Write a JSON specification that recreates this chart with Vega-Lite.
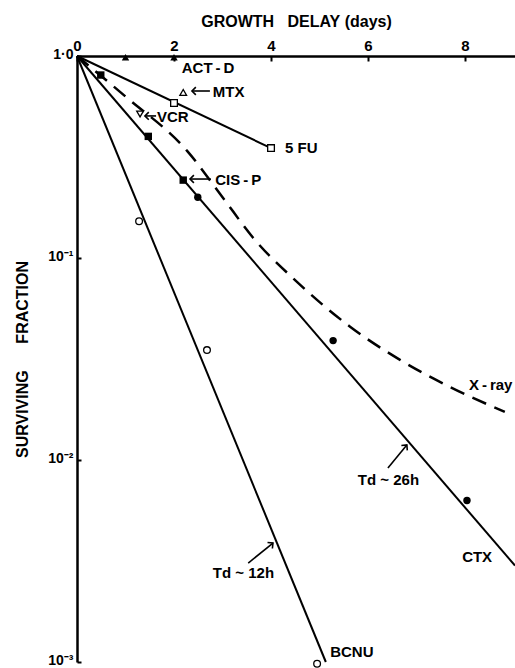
{
  "$schema": "https://vega.github.io/schema/vega-lite/v6.json",
  "width": 438,
  "height": 606,
  "autosize": {"type": "none"},
  "padding": {"left": 77, "top": 56, "right": 0, "bottom": 6},
  "background": "white",
  "config": {
    "view": {"stroke": null},
    "font": "Liberation Sans",
    "text": {"font": "Liberation Sans", "fontWeight": "bold", "fontSize": 14, "color": "black"}
  },
  "datasets": {
    "lines": [
      {"series": "5FU", "x": 0, "y": 1},
      {"series": "5FU", "x": 4.0, "y": 0.35},
      {"series": "CTX", "x": 0, "y": 1},
      {"series": "CTX", "x": 9.03, "y": 0.003},
      {"series": "BCNU", "x": 0, "y": 1},
      {"series": "BCNU", "x": 5.13, "y": 0.001}
    ],
    "xray": [
      {"x": 0, "y": 1},
      {"x": 1.0, "y": 0.63},
      {"x": 2.27, "y": 0.339},
      {"x": 3.0, "y": 0.2},
      {"x": 3.63, "y": 0.126},
      {"x": 4.54, "y": 0.076},
      {"x": 5.63, "y": 0.0457},
      {"x": 6.66, "y": 0.0313},
      {"x": 7.69, "y": 0.023},
      {"x": 8.82, "y": 0.0173}
    ],
    "points": [
      {"series": "ACT-D", "x": 1.0, "y": 0.985},
      {"series": "ACT-D", "x": 2.0, "y": 0.985},
      {"series": "MTX", "x": 2.19, "y": 0.66},
      {"series": "VCR", "x": 1.3, "y": 0.516},
      {"series": "5FU", "x": 2.0, "y": 0.585},
      {"series": "5FU", "x": 4.0, "y": 0.35},
      {"series": "CIS-P", "x": 0.49, "y": 0.805},
      {"series": "CIS-P", "x": 1.47, "y": 0.4},
      {"series": "CIS-P", "x": 2.19, "y": 0.243},
      {"series": "CTX", "x": 2.49, "y": 0.2},
      {"series": "CTX", "x": 5.28, "y": 0.039},
      {"series": "CTX", "x": 8.04, "y": 0.0063},
      {"series": "BCNU", "x": 1.28, "y": 0.152},
      {"series": "BCNU", "x": 2.68, "y": 0.035},
      {"series": "BCNU", "x": 4.95, "y": 0.00098}
    ],
    "labels": [
      {"label": "ACT\u2009-\u2009D", "x": 2.16, "y": 0.873},
      {"label": "MTX", "x": 2.8, "y": 0.663},
      {"label": "VCR", "x": 1.65, "y": 0.499},
      {"label": "5 FU", "x": 4.29, "y": 0.35},
      {"label": "CIS\u2009-\u2009P", "x": 2.85, "y": 0.243},
      {"label": "X\u2009-\u2009ray", "x": 8.08, "y": 0.0235},
      {"label": "Td ~ 26h", "x": 5.79, "y": 0.00796},
      {"label": "CTX", "x": 7.94, "y": 0.00331},
      {"label": "Td ~ 12h", "x": 2.8, "y": 0.00276},
      {"label": "BCNU", "x": 5.22, "y": 0.00112}
    ],
    "arrows": [
      {"arrow": "MTX", "x": 2.37, "y": 0.671, "x2": 2.74, "y2": 0.671},
      {"arrow": "CIS-P", "x": 2.33, "y": 0.246, "x2": 2.76, "y2": 0.246},
      {"arrow": "VCR", "x": 1.4, "y": 0.505, "x2": 1.63, "y2": 0.505},
      {"arrow": "Td26", "x": 6.8, "y": 0.01187, "x2": 6.41, "y2": 0.00912},
      {"arrow": "Td12", "x": 4.04, "y": 0.00388, "x2": 3.53, "y2": 0.00309}
    ]
  },
  "encoding": {
    "x": {
      "field": "x", "type": "quantitative",
      "scale": {"type": "linear", "domain": [0, 9.03], "nice": false, "zero": false},
      "axis": {
        "orient": "top", "title": "GROWTH\u00a0\u00a0\u00a0DELAY\u00a0(days)",
        "values": [0, 2, 4, 6, 8], "format": "d", "labelAngle": 0,
        "labelFont": "Liberation Sans", "labelFontWeight": "bold", "labelFontSize": 15, "labelColor": "black",
        "labelPadding": 8, "labelFlush": false, "labelOverlap": false,
        "tickSize": -5, "tickWidth": 2, "tickColor": "black",
        "domainColor": "black", "domainWidth": 2.5, "grid": false,
        "titleFont": "Liberation Sans", "titleFontWeight": "bold", "titleFontSize": 16, "titleColor": "black", "titlePadding": 9
      }
    },
    "y": {
      "field": "y", "type": "quantitative",
      "scale": {"type": "log", "domain": [0.001, 1], "nice": false},
      "axis": {
        "orient": "left", "title": "SURVIVING\u00a0\u00a0\u00a0\u00a0\u00a0\u00a0FRACTION",
        "values": [1, 0.1, 0.01, 0.001],
        "labelExpr": "datum.value >= 0.5 ? '1·0' : datum.value >= 0.05 ? '10⁻¹' : datum.value >= 0.005 ? '10⁻²' : '10⁻³'",
        "labelFont": "Liberation Sans", "labelFontWeight": "bold", "labelFontSize": 14, "labelColor": "black",
        "labelPadding": 8, "labelOffset": -2, "labelFlush": false, "labelOverlap": false,
        "tickSize": -4, "tickWidth": 2, "tickColor": "black",
        "domainColor": "black", "domainWidth": 2.5, "grid": false,
        "titleFont": "Liberation Sans", "titleFontWeight": "bold", "titleFontSize": 16, "titleColor": "black", "titlePadding": 17
      }
    }
  },
  "layer": [
    {
      "data": {"name": "lines"},
      "mark": {"type": "line", "color": "black", "strokeWidth": 2},
      "encoding": {"detail": {"field": "series"}}
    },
    {
      "data": {"name": "xray"},
      "mark": {"type": "line", "color": "black", "strokeWidth": 2.5, "strokeDash": [15, 9], "interpolate": "monotone"},
      "encoding": {}
    },
    {
      "data": {"name": "arrows"},
      "mark": {"type": "rule", "color": "black", "strokeWidth": 1.6},
      "encoding": {"x2": {"field": "x2"}, "y2": {"field": "y2"}}
    },
    {
      "data": {"name": "arrows"},
      "transform": [{"filter": "datum.arrow === 'MTX' || datum.arrow === 'CIS-P' || datum.arrow === 'VCR'"}],
      "mark": {"type": "point", "shape": "M -1 1 L 0 0 L 1 1", "angle": 270, "size": 60, "filled": false, "color": "black", "strokeWidth": 1.6, "opacity": 1},
      "encoding": {}
    },
    {
      "data": {"name": "arrows"},
      "transform": [{"filter": "datum.arrow === 'Td26'"}],
      "mark": {"type": "point", "shape": "M -1 1 L 0 0 L 1 1", "angle": 40, "size": 60, "filled": false, "color": "black", "strokeWidth": 1.6, "opacity": 1},
      "encoding": {}
    },
    {
      "data": {"name": "arrows"},
      "transform": [{"filter": "datum.arrow === 'Td12'"}],
      "mark": {"type": "point", "shape": "M -1 1 L 0 0 L 1 1", "angle": 51, "size": 60, "filled": false, "color": "black", "strokeWidth": 1.6, "opacity": 1},
      "encoding": {}
    },
    {
      "data": {"name": "points"},
      "transform": [{"filter": "datum.series === 'ACT-D' || datum.series === 'CIS-P' || datum.series === 'CTX'"}],
      "mark": {"type": "point", "filled": true, "color": "black", "size": 55, "opacity": 1},
      "encoding": {
        "shape": {
          "field": "series", "type": "nominal", "legend": null,
          "scale": {"domain": ["ACT-D", "MTX", "VCR", "CIS-P", "5FU", "CTX", "BCNU"], "range": ["triangle-up", "triangle-up", "triangle-down", "square", "square", "circle", "circle"]}
        }
      }
    },
    {
      "data": {"name": "points"},
      "transform": [{"filter": "datum.series === 'MTX' || datum.series === 'VCR' || datum.series === '5FU' || datum.series === 'BCNU'"}],
      "mark": {"type": "point", "filled": true, "fill": "white", "stroke": "black", "strokeWidth": 1.3, "size": 45, "opacity": 1},
      "encoding": {
        "shape": {
          "field": "series", "type": "nominal", "legend": null,
          "scale": {"domain": ["ACT-D", "MTX", "VCR", "CIS-P", "5FU", "CTX", "BCNU"], "range": ["triangle-up", "triangle-up", "triangle-down", "square", "square", "circle", "circle"]}
        }
      }
    },
    {
      "data": {"name": "labels"},
      "mark": {"type": "text", "align": "left", "baseline": "middle", "fontWeight": "bold", "fontSize": 15, "font": "Liberation Sans", "color": "black"},
      "encoding": {"text": {"field": "label"}}
    }
  ]
}
